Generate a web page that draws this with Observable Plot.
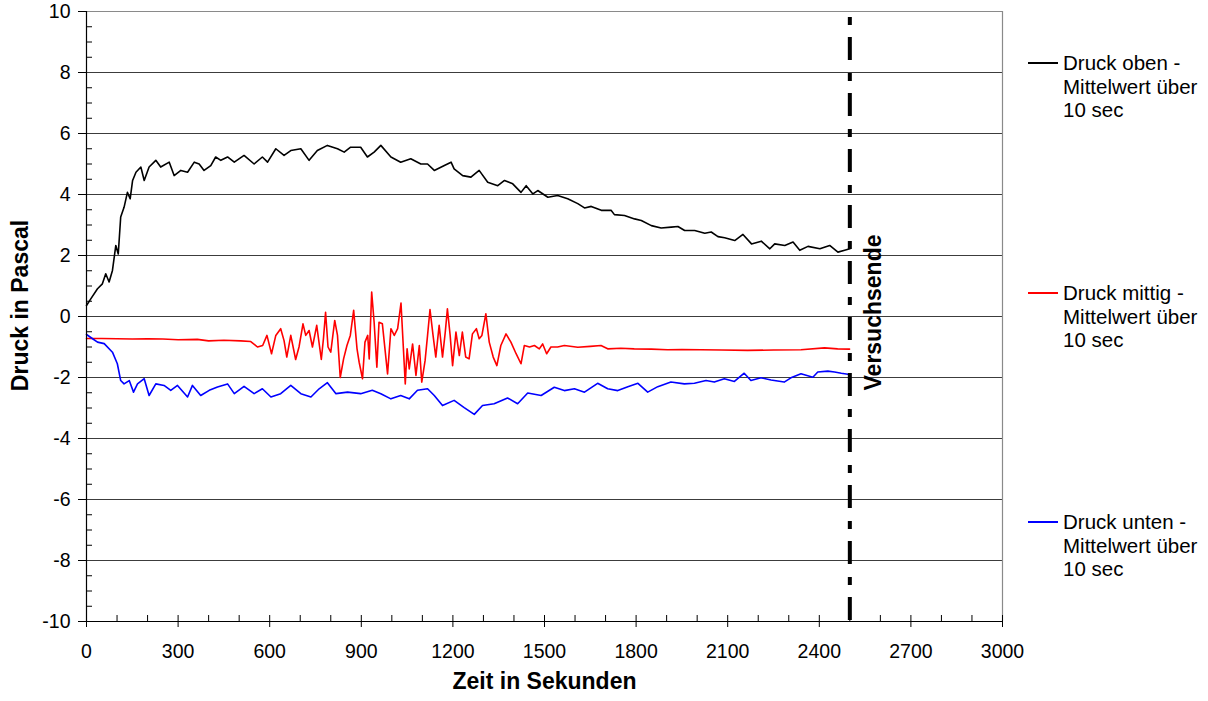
<!DOCTYPE html>
<html>
<head>
<meta charset="utf-8">
<script src="https://cdn.jsdelivr.net/npm/d3@7"></script>
<script src="https://cdn.jsdelivr.net/npm/@observablehq/plot@0.6"></script>
<style>
  html, body { margin: 0; padding: 0; background: #fff; }
  #wrap { position: relative; width: 1208px; height: 701px; font-family: "Liberation Sans", Arial, sans-serif; }
  .leg { position: absolute; left: 1028px; width: 180px; }
  .leg .sw { position: absolute; left: 0; width: 30px; height: 1.6px; }
  .leg .tx { position: absolute; left: 35px; top: 0; font-size: 20.5px; line-height: 23.5px; color: #000; white-space: nowrap; }
</style>
</head>
<body>
<div id="wrap"></div>
<script>
// ---- data ----
const xTickLabels = [0, 300, 600, 900, 1200, 1500, 1800, 2100, 2400, 2700, 3000];
const yTickLabels = [-10, -8, -6, -4, -2, 0, 2, 4, 6, 8, 10];
const xTitle = "Zeit in Sekunden";
const yTitle = "Druck in Pascal";
const versuchsende = 2500;
const versuchsendeLabel = "Versuchsende";
const seriesNames = ["Druck oben - Mittelwert über 10 sec", "Druck mittig - Mittelwert über 10 sec", "Druck unten - Mittelwert über 10 sec"];
const seriesColors = ["#000000", "#ff0000", "#0000ff"];

const druckOben = [[0,0.36],[14,0.58],[36,0.91],[52,1.07],[63,1.40],[74,1.13],[85,1.51],[96,2.33],[104,2.05],[112,3.26],[123,3.58],[134,4.07],[143,3.86],[151,4.46],[162,4.73],[178,4.90],[189,4.46],[205,4.90],[227,5.12],[243,4.90],[271,5.06],[287,4.62],[309,4.79],[331,4.73],[353,5.06],[369,5.00],[385,4.79],[407,4.95],[423,5.23],[440,5.12],[462,5.23],[484,5.06],[516,5.28],[549,5.00],[576,5.23],[593,5.06],[620,5.50],[647,5.28],[669,5.44],[702,5.50],[729,5.12],[756,5.44],[789,5.61],[822,5.50],[844,5.39],[865,5.55],[898,5.55],[920,5.23],[942,5.39],[964,5.61],[997,5.23],[1029,5.06],[1062,5.17],[1095,5.00],[1117,5.00],[1139,4.79],[1172,4.95],[1194,5.06],[1204,4.84],[1232,4.62],[1259,4.57],[1286,4.79],[1314,4.40],[1347,4.29],[1369,4.46],[1396,4.35],[1423,4.07],[1440,4.29],[1462,4.02],[1478,4.13],[1511,3.91],[1543,3.97],[1576,3.86],[1609,3.70],[1631,3.56],[1653,3.61],[1686,3.48],[1718,3.48],[1729,3.34],[1762,3.31],[1795,3.20],[1817,3.15],[1850,2.98],[1882,2.90],[1915,2.93],[1937,2.95],[1959,2.82],[1992,2.82],[2025,2.73],[2046,2.77],[2068,2.62],[2090,2.58],[2123,2.49],[2150,2.69],[2178,2.38],[2210,2.47],[2238,2.22],[2254,2.38],[2287,2.33],[2314,2.44],[2336,2.17],[2363,2.30],[2402,2.22],[2434,2.33],[2461,2.11],[2483,2.17],[2500,2.22]];

const druckMittig = [[0,-0.72],[50,-0.72],[100,-0.73],[150,-0.74],[200,-0.73],[250,-0.74],[300,-0.76],[363,-0.75],[400,-0.80],[450,-0.78],[505,-0.80],[538,-0.82],[560,-1.0],[577,-0.95],[591,-0.62],[606,-1.22],[620,-0.62],[636,-0.40],[647,-0.79],[656,-1.33],[669,-0.62],[685,-1.41],[696,-1.0],[709,-0.24],[718,-0.62],[729,-0.46],[740,-1.0],[754,-0.29],[769,-1.41],[776,-0.73],[783,0.14],[791,-1.0],[800,-1.17],[813,-0.13],[822,-0.62],[831,-2.0],[842,-1.39],[853,-0.95],[864,-0.62],[875,0.20],[886,-1.06],[893,-1.50],[904,-2.04],[912,-0.84],[921,-0.62],[926,-1.39],[934,0.80],[942,-0.19],[951,-1.66],[958,-0.19],[969,-0.24],[986,-1.88],[997,-0.40],[1008,-0.62],[1019,-0.40],[1030,0.44],[1044,-2.21],[1050,-1.06],[1057,-1.72],[1068,-0.90],[1079,-1.93],[1090,-0.95],[1098,-2.15],[1109,-1.44],[1117,-0.62],[1125,0.23],[1135,-0.62],[1144,-1.33],[1155,-0.29],[1166,-1.33],[1175,-0.51],[1182,0.25],[1191,-0.62],[1199,-1.61],[1210,-0.51],[1221,-1.28],[1231,-0.51],[1242,-1.33],[1253,-1.39],[1264,-0.57],[1277,-0.40],[1286,-0.73],[1295,-0.62],[1308,0.09],[1319,-0.84],[1332,-1.33],[1344,-1.61],[1357,-0.95],[1374,-0.57],[1390,-0.84],[1407,-1.22],[1423,-1.55],[1434,-0.95],[1451,-1.0],[1467,-0.95],[1483,-1.06],[1494,-0.90],[1507,-1.22],[1521,-1.0],[1543,-1.0],[1565,-0.95],[1609,-1.01],[1650,-0.98],[1685,-0.95],[1707,-1.06],[1750,-1.04],[1794,-1.06],[1850,-1.07],[1903,-1.09],[1950,-1.08],[2012,-1.09],[2080,-1.10],[2165,-1.11],[2250,-1.10],[2340,-1.09],[2417,-1.03],[2460,-1.06],[2499,-1.07]];

const druckUnten = [[0,-0.59],[20,-0.73],[36,-0.84],[58,-0.89],[85,-1.17],[101,-1.55],[112,-2.10],[123,-2.21],[140,-2.10],[154,-2.48],[167,-2.21],[189,-2.04],[205,-2.59],[227,-2.21],[254,-2.26],[276,-2.42],[298,-2.26],[331,-2.64],[347,-2.26],[374,-2.59],[402,-2.42],[429,-2.31],[462,-2.21],[484,-2.53],[516,-2.29],[549,-2.53],[576,-2.37],[604,-2.64],[636,-2.53],[669,-2.26],[702,-2.53],[735,-2.64],[762,-2.37],[789,-2.17],[817,-2.53],[855,-2.48],[898,-2.53],[936,-2.42],[964,-2.53],[997,-2.70],[1029,-2.59],[1057,-2.70],[1084,-2.42],[1117,-2.37],[1139,-2.59],[1166,-2.92],[1204,-2.75],[1237,-2.99],[1270,-3.21],[1297,-2.92],[1335,-2.86],[1379,-2.67],[1412,-2.86],[1445,-2.51],[1489,-2.59],[1532,-2.32],[1565,-2.43],[1598,-2.37],[1631,-2.48],[1674,-2.19],[1707,-2.37],[1740,-2.43],[1773,-2.30],[1806,-2.19],[1838,-2.48],[1871,-2.30],[1914,-2.15],[1958,-2.21],[1991,-2.19],[2029,-2.10],[2056,-2.15],[2089,-2.04],[2122,-2.13],[2154,-1.86],[2176,-2.10],[2209,-2.01],[2242,-2.08],[2285,-2.15],[2307,-2.01],[2340,-1.88],[2379,-1.99],[2395,-1.82],[2428,-1.79],[2450,-1.82],[2472,-1.86],[2499,-1.90]];

// ---- chart ----
const xMinor = d3.range(0, 3001, 100).filter(v => v % 300 !== 0);
const yMinor = d3.range(-10, 10.01, 0.5).filter(v => v % 2 !== 0);
const gridY = yTickLabels.filter(v => v > -10 && v < 10);
const series = [druckOben, druckMittig, druckUnten];
const FONT = "Liberation Sans, Arial, Helvetica, sans-serif";

const chart = Plot.plot({
  width: 1208,
  height: 701,
  marginLeft: 86,
  marginRight: 206,
  marginTop: 11,
  marginBottom: 80,
  x: {domain: [0, 3000]},
  y: {domain: [-10, 10]},
  style: {fontFamily: FONT, background: "white", color: "black", overflow: "visible"},
  marks: [
    Plot.ruleY(gridY, {stroke: "#3c3c3c", strokeWidth: 1}),
    Plot.ruleY([10], {stroke: "#8a8a8a", strokeWidth: 1.2}),
    Plot.ruleX([3000], {stroke: "#8a8a8a", strokeWidth: 1.2}),
    ...series.map((s, i) => Plot.line(s, {x: d => d[0], y: d => d[1], stroke: seriesColors[i], strokeWidth: 1.6})),
    Plot.ruleX([versuchsende], {y1: 10, y2: -10, stroke: "black", strokeWidth: 4, strokeDasharray: "8,12,23,13", strokeDashoffset: -6}),
    Plot.text([versuchsendeLabel], {x: () => versuchsende, text: d => d, frameAnchor: "middle", textAnchor: "middle", rotate: -90, dx: 24, dy: -4, fontSize: 23, fontWeight: "bold", fill: "black"}),
    // axis lines
    Plot.ruleX([0], {stroke: "black", strokeWidth: 1.2}),
    Plot.ruleY([-10], {stroke: "black", strokeWidth: 1.2}),
    // x axis
    Plot.axisX(xTickLabels, {anchor: "bottom", tickSize: 0, tickPadding: 23, fontSize: 19.5, tickFormat: d => String(d), label: null}),
    Plot.axisX(xTickLabels, {anchor: "bottom", tickSize: 12, dy: -6, fill: "none", label: null}),
    Plot.axisX(xMinor, {anchor: "bottom", tickSize: 6, dy: -6, fill: "none", label: null}),
    // y axis
    Plot.axisY(yTickLabels, {anchor: "left", tickSize: 8, tickPadding: 8, fontSize: 19.5, tickFormat: d => String(d), label: null}),
    Plot.axisY(yMinor, {anchor: "left", tickSize: 6, dx: 6, fill: "none", label: null}),
    // titles
    Plot.text([xTitle], {frameAnchor: "bottom", textAnchor: "middle", dy: 67, text: d => d, fontSize: 23, fontWeight: "bold", fill: "black"}),
    Plot.text([yTitle], {frameAnchor: "left", textAnchor: "middle", dx: -66, dy: -11, rotate: -90, text: d => d, fontSize: 23, fontWeight: "bold", fill: "black"})
  ]
});

const wrap = document.getElementById("wrap");
wrap.appendChild(chart);

// legend
const legendTops = [63, 293, 522];
seriesNames.forEach((name, i) => {
  const parts = name.split(" - ");
  const rest = parts[1].split(" über ");
  const lines = [parts[0] + " -", rest[0] + " über", rest[1]];
  const g = document.createElement("div");
  g.className = "leg";
  g.style.top = legendTops[i] + "px";
  const sw = document.createElement("div");
  sw.className = "sw";
  sw.style.background = seriesColors[i];
  sw.style.top = "-1px";
  g.appendChild(sw);
  const tx = document.createElement("div");
  tx.className = "tx";
  tx.style.top = "-11.75px";
  tx.innerHTML = lines.join("<br>");
  g.appendChild(tx);
  wrap.appendChild(g);
});
</script>
</body>
</html>
